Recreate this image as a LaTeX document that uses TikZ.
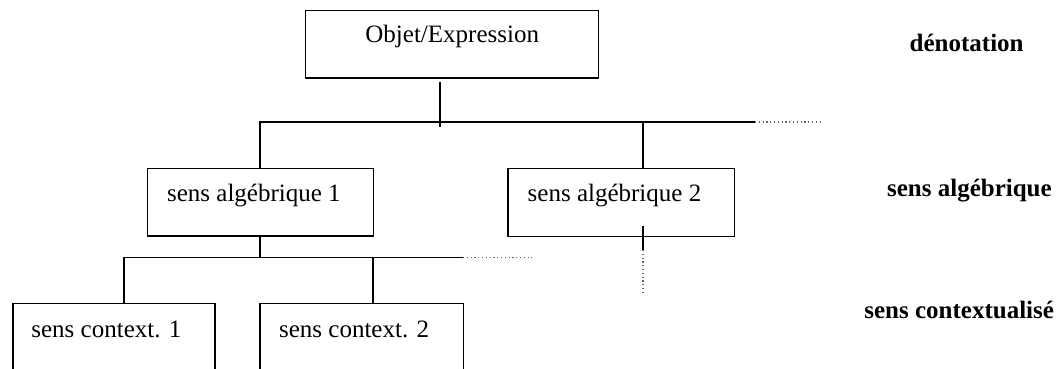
\documentclass[tikz,border=0pt]{standalone}
\usepackage{fontspec}
\setmainfont{Liberation Serif}
\begin{document}
\begin{tikzpicture}[x=0.5pt,y=-0.5pt,
  box/.style={draw, line width=0.75pt, inner sep=0pt, anchor=north west},
  lbl/.style={font=\fontsize{12.5}{15}\selectfont, inner sep=0pt, anchor=base west},
  side/.style={font=\fontsize{12.5}{15}\selectfont\bfseries, inner sep=0pt, anchor=base west},
  ln/.style={line width=0.75pt},
  dotln/.style={line width=0.7pt, gray!80!black, dash pattern=on 0.6pt off 1.3pt}]
\clip (0,0) rectangle (1060,369);
\fill[white] (0,0) rectangle (1060,369);
% boxes
\node[box, minimum width=146.6pt, minimum height=33.75pt] (top) at (304.5,10) {};
\node[box, minimum width=113pt, minimum height=33.8pt] (a1) at (146.7,167.7) {};
\node[box, minimum width=113.3pt, minimum height=33.9pt] (a2) at (507.3,167.7) {};
\node[box, minimum width=101pt, minimum height=45pt] (c1) at (12,302.7) {};
\node[box, minimum width=101.7pt, minimum height=45pt] (c2) at (259.3,302.7) {};
% box texts
\node[lbl] (ttop) at (365,43) {Objet/Expression};
\node[lbl] (ta1) at (166.7,201.7) {sens algébrique 1};
\node[lbl] (ta2) at (527.3,201.7) {sens algébrique 2};
\node[lbl] (tc1) at (31,337) {sens context. 1};
\node[lbl] (tc2) at (278.7,337) {sens context. 2};
% side labels
\node[side] (s1) at (909.3,51.7) {dénotation};
\node[side] (s2) at (886.7,196.7) {sens algébrique};
\node[side] (s3) at (864,318.3) {sens contextualisé};
% coordinates
\coordinate (t0) at (440,82);
\coordinate (t1) at (440,127);
\coordinate (b1L) at (260,122);
\coordinate (b1M) at (643,122);
\coordinate (b1R) at (755,122);
\coordinate (b1D) at (822,122);
\coordinate (a2s) at (643,226);
\coordinate (a2m) at (643,250);
\coordinate (a2d) at (643,292);
\coordinate (b2L) at (124,257.7);
\coordinate (b2M) at (260,257.7);
\coordinate (b2C) at (373,257.7);
\coordinate (b2R) at (463,257.7);
\coordinate (b2D) at (532,257.7);
% connectors
\draw[ln] (t0) -- (t1);
\draw[ln] (b1L |- a1.north) -- (b1L) -- (b1R);
\draw[dotln] (b1R) -- (b1D);
\draw[ln] (b1M) -- (b1M |- a2.north);
\draw[ln] (a2s) -- (a2m);
\draw[dotln] (a2m) -- (a2d);
\draw[ln] (b2M |- a1.south) -- (b2M);
\draw[ln] (b2L |- c1.north) -- (b2L) -- (b2R);
\draw[dotln] (b2R) -- (b2D);
\draw[ln] (b2C) -- (b2C |- c2.north);
\end{tikzpicture}
\end{document}
